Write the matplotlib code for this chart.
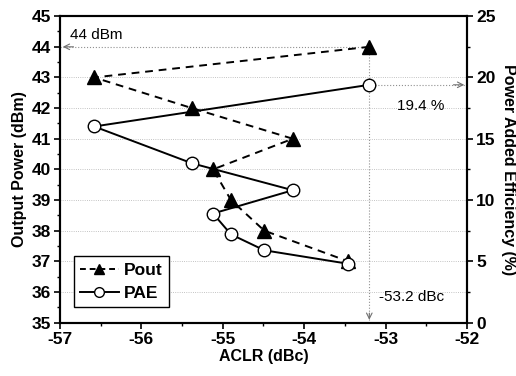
import numpy as np
import matplotlib
matplotlib.use('Agg')
import matplotlib.pyplot as plt
from matplotlib.lines import Line2D

plt.rcParams['font.family'] = ['Liberation Sans', 'DejaVu Sans']

# data (points in sweep order)
aclr = [-53.2, -56.58, -55.38, -54.14, -55.12, -54.9, -54.49, -53.46]
pout = [44, 43, 42, 41, 40, 39, 38, 37]
pae = [19.4, 16.0, 13.0, 10.8, 8.9, 7.2, 5.9, 4.8]

fig = plt.figure(figsize=(5.16, 3.76), dpi=100)
ax = fig.add_axes([0.1163, 0.142, 0.7887, 0.815])
ax2 = ax.twinx()

# faint dotted grid
for yv in range(36, 44):
    ax.axhline(yv, color='#b0b0b0', lw=0.6, ls=':', zorder=0)

ax.plot(aclr, pout, color='black', ls='--', lw=1.4, dashes=(4, 3),
        marker='^', ms=10, mfc='black', mec='black', zorder=3)
ax2.plot(aclr, pae, color='black', ls='-', lw=1.4,
         marker='o', ms=9, mfc='white', mec='black', zorder=3)

ax.set_xlim(-57, -52)
ax.set_ylim(35, 45)
ax2.set_ylim(0, 25)

ax.set_xticks(np.arange(-57, -51.9, 1))
ax.set_xticks(np.arange(-57, -51.9, 0.5), minor=True)
ax.set_yticks(np.arange(35, 45.1, 1))
ax.set_yticks(np.arange(35, 45.1, 0.5), minor=True)
ax2.set_yticks(np.arange(0, 25.1, 5))
ax2.set_yticks(np.arange(0, 25.1, 2.5), minor=True)

ax.set_xticklabels([str(int(v)) for v in np.arange(-57, -51.9, 1)])

for a in (ax, ax2):
    a.tick_params(which='major', direction='out', length=4, width=1.2,
                  labelsize=12.5, pad=2.5)
    a.tick_params(which='minor', direction='out', length=2, width=1)
    for lab in a.get_xticklabels() + a.get_yticklabels():
        lab.set_fontweight('bold')
    for s in a.spines.values():
        s.set_linewidth(1.5)

ax.set_xlabel('ACLR (dBc)', fontsize=11.5, fontweight='bold', labelpad=2)
ax.set_ylabel('Output Power (dBm)', fontsize=11.5, fontweight='bold', labelpad=3)
ax2.set_ylabel('Power Added Efficiency (%)', fontsize=11.5, fontweight='bold',
               rotation=270, labelpad=15)

# annotations for the peak point
x0, p0, e0 = aclr[0], pout[0], pae[0]
ax.plot([-57, x0], [p0, p0], color='#909090', lw=0.8, ls=':', zorder=1)
ax.annotate('', xy=(-57, p0), xytext=(-56.8, p0),
            arrowprops=dict(arrowstyle='->', color='#707070', lw=0.8))
ax.text(-56.88, 44.4, '44 dBm', fontsize=11, va='center', ha='left')

ax2.plot([x0, -52], [e0, e0], color='#909090', lw=0.8, ls=':', zorder=1)
ax2.annotate('', xy=(-52, e0), xytext=(-52.2, e0),
             arrowprops=dict(arrowstyle='->', color='#707070', lw=0.8))
ax2.text(-52.28, 17.7, '19.4 %', fontsize=11, va='center', ha='right')

ax.plot([x0, x0], [35, p0], color='#909090', lw=0.8, ls=':', zorder=1)
ax.annotate('', xy=(x0, 35), xytext=(x0, 35.4),
            arrowprops=dict(arrowstyle='->', color='#707070', lw=0.8))
ax.text(-53.08, 35.85, '-53.2 dBc', fontsize=11, va='center', ha='left')

handles = [Line2D([], [], color='black', ls='--', lw=1.4, dashes=(3, 2),
                  marker='^', ms=7, mfc='black'),
           Line2D([], [], color='black', ls='-', lw=1.4,
                  marker='o', ms=7, mfc='white', mec='black')]
leg = ax.legend(handles, ['Pout', 'PAE'], loc='lower left',
                bbox_to_anchor=(0.035, 0.052), fancybox=False, framealpha=1,
                edgecolor='black', prop={'weight': 'bold', 'size': 12.5},
                handlelength=2.2, handletextpad=0.3, borderpad=0.35,
                labelspacing=0.45, borderaxespad=0)
leg.get_frame().set_linewidth(1.0)

fig.savefig('out.png', dpi=100)
